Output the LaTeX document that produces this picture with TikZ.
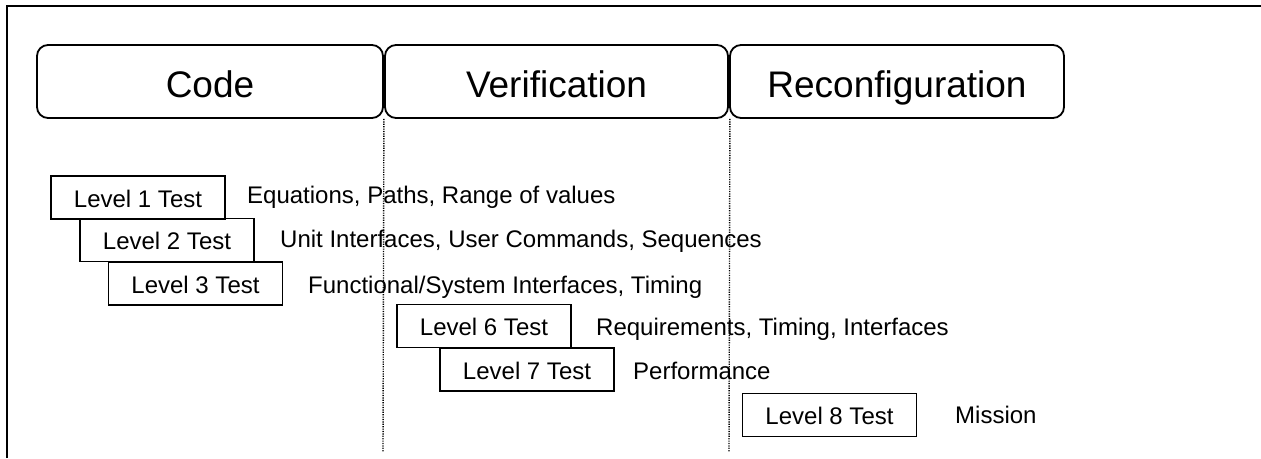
\documentclass[tikz,border=0pt]{standalone}
\usepackage{fontspec}
\setmainfont{Liberation Sans}
\begin{document}
\begin{tikzpicture}[x=1pt,y=-1pt,
  phase/.style={draw,line width=1.8pt,rounded corners=11pt,minimum height=73pt,inner sep=0pt,text height=36pt,text depth=4pt,font=\fontsize{37}{40}\selectfont},
  levelbox/.style={draw,line width=1.8pt,minimum width=174pt,minimum height=43pt,inner sep=0pt,text height=21pt,text depth=1.5pt,font=\fontsize{24}{28}\selectfont},
  desc/.style={anchor=base west,inner sep=0pt,font=\fontsize{24}{28}\selectfont},
  divider/.style={line width=1.4pt,dash pattern=on 1.2pt off 1.2pt},
  frame/.style={line width=2pt}]
\useasboundingbox (0,0) rectangle (1261,458);
\draw[frame] (7,458) -- (7,6) -- (1261,6);
% phase headers
\node[phase,minimum width=346pt] (code) at (210,81.5) {Code};
\node[phase,minimum width=343pt] (ver) at (556.5,81.5) {Verification};
\node[phase,minimum width=334pt] (rec) at (897,81.5) {Reconfiguration};
% dividers
\coordinate (d1) at (383,452);
\coordinate (d2) at (729,452);
\draw[divider] (code.south east) -- (d1);
\draw[divider] (ver.south east) ++(1,0) -- (d2);
% level boxes
\node[levelbox] (l1) at (138,197.5) {Level 1 Test};
\node[levelbox] (l2) at (167,240) {Level 2 Test};
\node[levelbox] (l3) at (195.5,283.5) {Level 3 Test};
\node[levelbox] (l6) at (484,326) {Level 6 Test};
\node[levelbox] (l7) at (527,369.5) {Level 7 Test};
\node[levelbox] (l8) at (829.5,415) {Level 8 Test};
% descriptions
\node[desc] (t1) at (247,203) {Equations, Paths, Range of values};
\node[desc] (t2) at (280,247) {Unit Interfaces, User Commands, Sequences};
\node[desc] (t3) at (308,293) {Functional/System Interfaces, Timing};
\node[desc] (t6) at (596,335) {Requirements, Timing, Interfaces};
\node[desc] (t7) at (633,379) {Performance};
\node[desc] (t8) at (955,423) {Mission};
\end{tikzpicture}
\end{document}
